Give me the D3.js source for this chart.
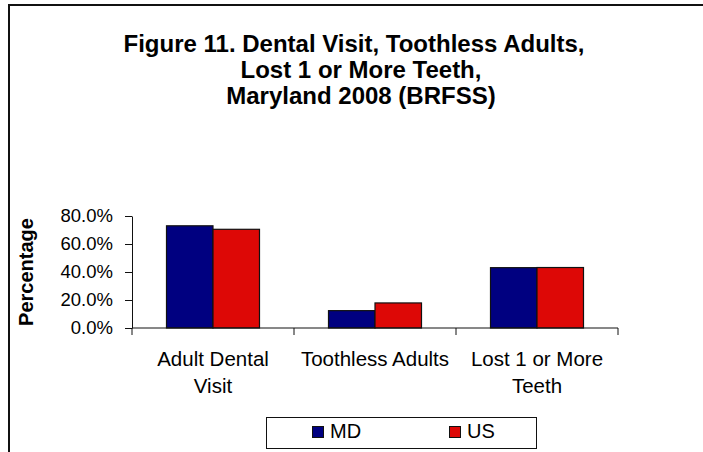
<!DOCTYPE html>
<html>
<head>
<meta charset="utf-8">
<script src="https://cdn.jsdelivr.net/npm/d3@7"></script>
<style>
  body { margin: 0; background: #fff; }
  svg { display: block; font-family: "Liberation Sans", Arial, sans-serif; }
</style>
</head>
<body>
<svg id="chart" width="703" height="452"></svg>
<script>
const titleLines = ["Figure 11. Dental Visit, Toothless Adults,", "Lost 1 or More Teeth,", "Maryland 2008 (BRFSS)"];
const categories = ["Adult Dental Visit", "Toothless Adults", "Lost 1 or More Teeth"];
const categoryLabels = [["Adult Dental", "Visit"], ["Toothless Adults"], ["Lost 1 or More", "Teeth"]];
const seriesNames = ["MD", "US"];
const mdValues = [0.730, 0.124, 0.431];
const usValues = [0.705, 0.179, 0.432];
const yTicks = [0, 0.2, 0.4, 0.6, 0.8];
const colors = ["#000080", "#DD0806"];
const yLabel = "Percentage";

const svg = d3.select("#chart");
svg.append("rect").attr("width", 703).attr("height", 452).attr("fill", "#fff");

// outer frame (top and left edges visible)
svg.append("path")
  .attr("d", "M9,452V5H703")
  .attr("fill", "none")
  .attr("stroke", "#111")
  .attr("stroke-width", 2);

// title
const titleCenters = [354, 361, 361];
const title = svg.append("text")
  .attr("text-anchor", "middle")
  .attr("font-weight", "bold")
  .attr("font-size", 24)
  .attr("fill", "#000");
titleLines.forEach((t, i) => {
  title.append("tspan").attr("x", titleCenters[i]).attr("y", 52 + i * 26).text(t);
});

const plot = { left: 132, right: 618, top: 216, bottom: 328 };

const x0 = d3.scaleBand().domain(categories).range([plot.left, plot.right]).padding(0);
const x1 = d3.scaleBand().domain(seriesNames).range([0, x0.bandwidth()]).paddingInner(0).paddingOuter(0.742);
const y = d3.scaleLinear().domain([0, 0.8]).range([plot.bottom, plot.top]);

const data = categories.map((c, i) => ({ cat: c, values: [mdValues[i], usValues[i]] }));

// bars
const groups = svg.append("g").selectAll("g").data(data).join("g")
  .attr("transform", d => `translate(${x0(d.cat)},0)`);
groups.selectAll("rect")
  .data(d => d.values.map((v, j) => ({ key: seriesNames[j], v, j })))
  .join("rect")
  .attr("x", d => x1(d.key))
  .attr("y", d => y(d.v))
  .attr("width", x1.bandwidth())
  .attr("height", d => y(0) - y(d.v))
  .attr("fill", d => colors[d.j])
  .attr("stroke", "#111")
  .attr("stroke-width", 1.2);

// y axis
const yAxis = svg.append("g")
  .attr("transform", `translate(${plot.left},0)`)
  .call(d3.axisLeft(y).tickValues(yTicks).tickFormat(d3.format(".1%")).tickSize(7).tickSizeOuter(0).tickPadding(12));
yAxis.attr("font-size", null).attr("font-family", null);
yAxis.select(".domain").attr("stroke", "#111");
yAxis.selectAll(".tick line").attr("stroke", "#111");
yAxis.selectAll(".tick text")
  .style("font-family", "'Liberation Sans', Arial, sans-serif")
  .style("font-size", "18.5px")
  .attr("fill", "#000");

// x axis
const boundaries = [plot.left, ...categories.map(c => x0(c) + x0.bandwidth())];
const xAxis = svg.append("g");
xAxis.append("line")
  .attr("x1", plot.left).attr("x2", plot.right)
  .attr("y1", y(0)).attr("y2", y(0))
  .attr("stroke", "#111");
xAxis.selectAll("line.tick").data(boundaries).join("line")
  .attr("class", "tick")
  .attr("x1", d => d).attr("x2", d => d)
  .attr("y1", y(0)).attr("y2", y(0) + 7)
  .attr("stroke", "#111");
const xl = xAxis.selectAll("text").data(categories).join("text")
  .attr("text-anchor", "middle")
  .attr("font-size", 20.5)
  .attr("fill", "#000");
xl.each(function(c, i) {
  const t = d3.select(this);
  categoryLabels[i].forEach((line, k) => {
    t.append("tspan")
      .attr("x", x0(c) + x0.bandwidth() / 2)
      .attr("y", 366 + k * 27)
      .text(line);
  });
});

// y label
svg.append("text")
  .attr("transform", "translate(33,272) rotate(-90)")
  .attr("text-anchor", "middle")
  .attr("font-weight", "bold")
  .attr("font-size", 20)
  .attr("fill", "#000")
  .text(yLabel);

// legend
const legend = svg.append("g");
legend.append("rect")
  .attr("x", 266.5).attr("y", 417.5).attr("width", 270).attr("height", 31)
  .attr("fill", "#fff").attr("stroke", "#111").attr("stroke-width", 1);
const legendX = [312, 449];
seriesNames.forEach((s, i) => {
  legend.append("rect")
    .attr("x", legendX[i] + 0.5).attr("y", 426.5)
    .attr("width", 11).attr("height", 11)
    .attr("fill", colors[i]).attr("stroke", "#111").attr("stroke-width", 1);
  legend.append("text")
    .attr("x", legendX[i] + 18).attr("y", 438)
    .attr("font-size", 20)
    .attr("fill", "#000")
    .text(s);
});
</script>
</body>
</html>
